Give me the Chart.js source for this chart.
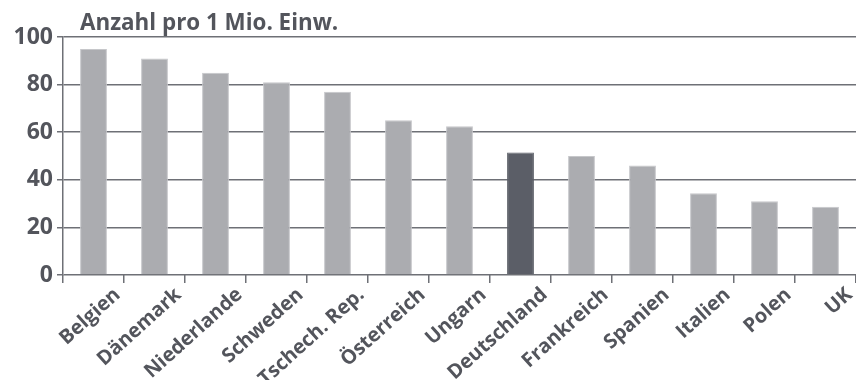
<!DOCTYPE html>
<html>
<head>
<meta charset="utf-8">
<script src="https://cdn.jsdelivr.net/npm/chart.js@4.4.1/dist/chart.umd.min.js"></script>
<style>
  html, body { margin: 0; padding: 0; background: #fff; }
  #wrap { width: 856px; height: 380px; position: relative; }
</style>
</head>
<body>
<div id="wrap"><canvas id="chart"></canvas></div>
<script>
const countries = ['Belgien', 'Dänemark', 'Niederlande', 'Schweden', 'Tschech. Rep.', 'Österreich',
  'Ungarn', 'Deutschland', 'Frankreich', 'Spanien', 'Italien', 'Polen', 'UK'];
const perMillion = [95, 91, 85, 81, 77, 65, 62.5, 51.5, 50, 46, 34.3, 31, 28.7];
const yTicks = [0, 20, 40, 60, 80, 100];
const highlight = 'Deutschland';

const textColor = '#53555c';
const lineColor = '#6e7076';
const font = 'Open Sans';

// unit caption above the plot, left-aligned just right of the y axis
const caption = {
  id: 'caption',
  afterDraw(chart) {
    const ctx = chart.ctx;
    ctx.save();
    ctx.font = '700 22.4px "' + font + '"';
    ctx.fillStyle = textColor;
    ctx.textBaseline = 'alphabetic';
    ctx.textAlign = 'left';
    ctx.fillText('Anzahl pro 1 Mio. Einw.', 80, 30);
    ctx.restore();
  }
};

new Chart(document.getElementById('chart'), {
  type: 'bar',
  data: {
    labels: countries,
    datasets: [{
      data: perMillion,
      backgroundColor: countries.map(c => c === highlight ? '#5b5e67' : '#abacb0'),
      borderColor: countries.map(c => c === highlight ? '#5b5e67' : '#c6c7ca'),
      borderWidth: 1,
      barPercentage: 0.44,
      categoryPercentage: 1
    }]
  },
  options: {
    responsive: true,
    maintainAspectRatio: false,
    animation: false,
    layout: { padding: { top: 37, right: 0, left: 0, bottom: 0 } },
    plugins: { legend: { display: false }, tooltip: { enabled: false } },
    scales: {
      x: {
        offset: true,
        afterFit(scale) { scale.height = 105; },
        grid: { offset: true, drawOnChartArea: false, color: lineColor, lineWidth: 1.5, tickLength: 8 },
        border: { display: false },
        ticks: {
          color: textColor,
          font: { family: font, size: 20, weight: '700' },
          minRotation: 42,
          maxRotation: 42,
          autoSkip: false,
          labelOffset: 24,
          padding: 0
        }
      },
      y: {
        min: 0,
        max: 100,
        afterFit(scale) { scale.width = 63; },
        afterBuildTicks(scale) { scale.ticks = yTicks.map(v => ({ value: v })); },
        grid: { color: lineColor, lineWidth: 1.5, tickLength: 6 },
        border: { display: true, color: lineColor, width: 1.5 },
        ticks: {
          color: textColor,
          font: { family: font, size: 23, weight: '700' },
          padding: 4
        }
      }
    }
  },
  plugins: [caption]
});
</script>
</body>
</html>
